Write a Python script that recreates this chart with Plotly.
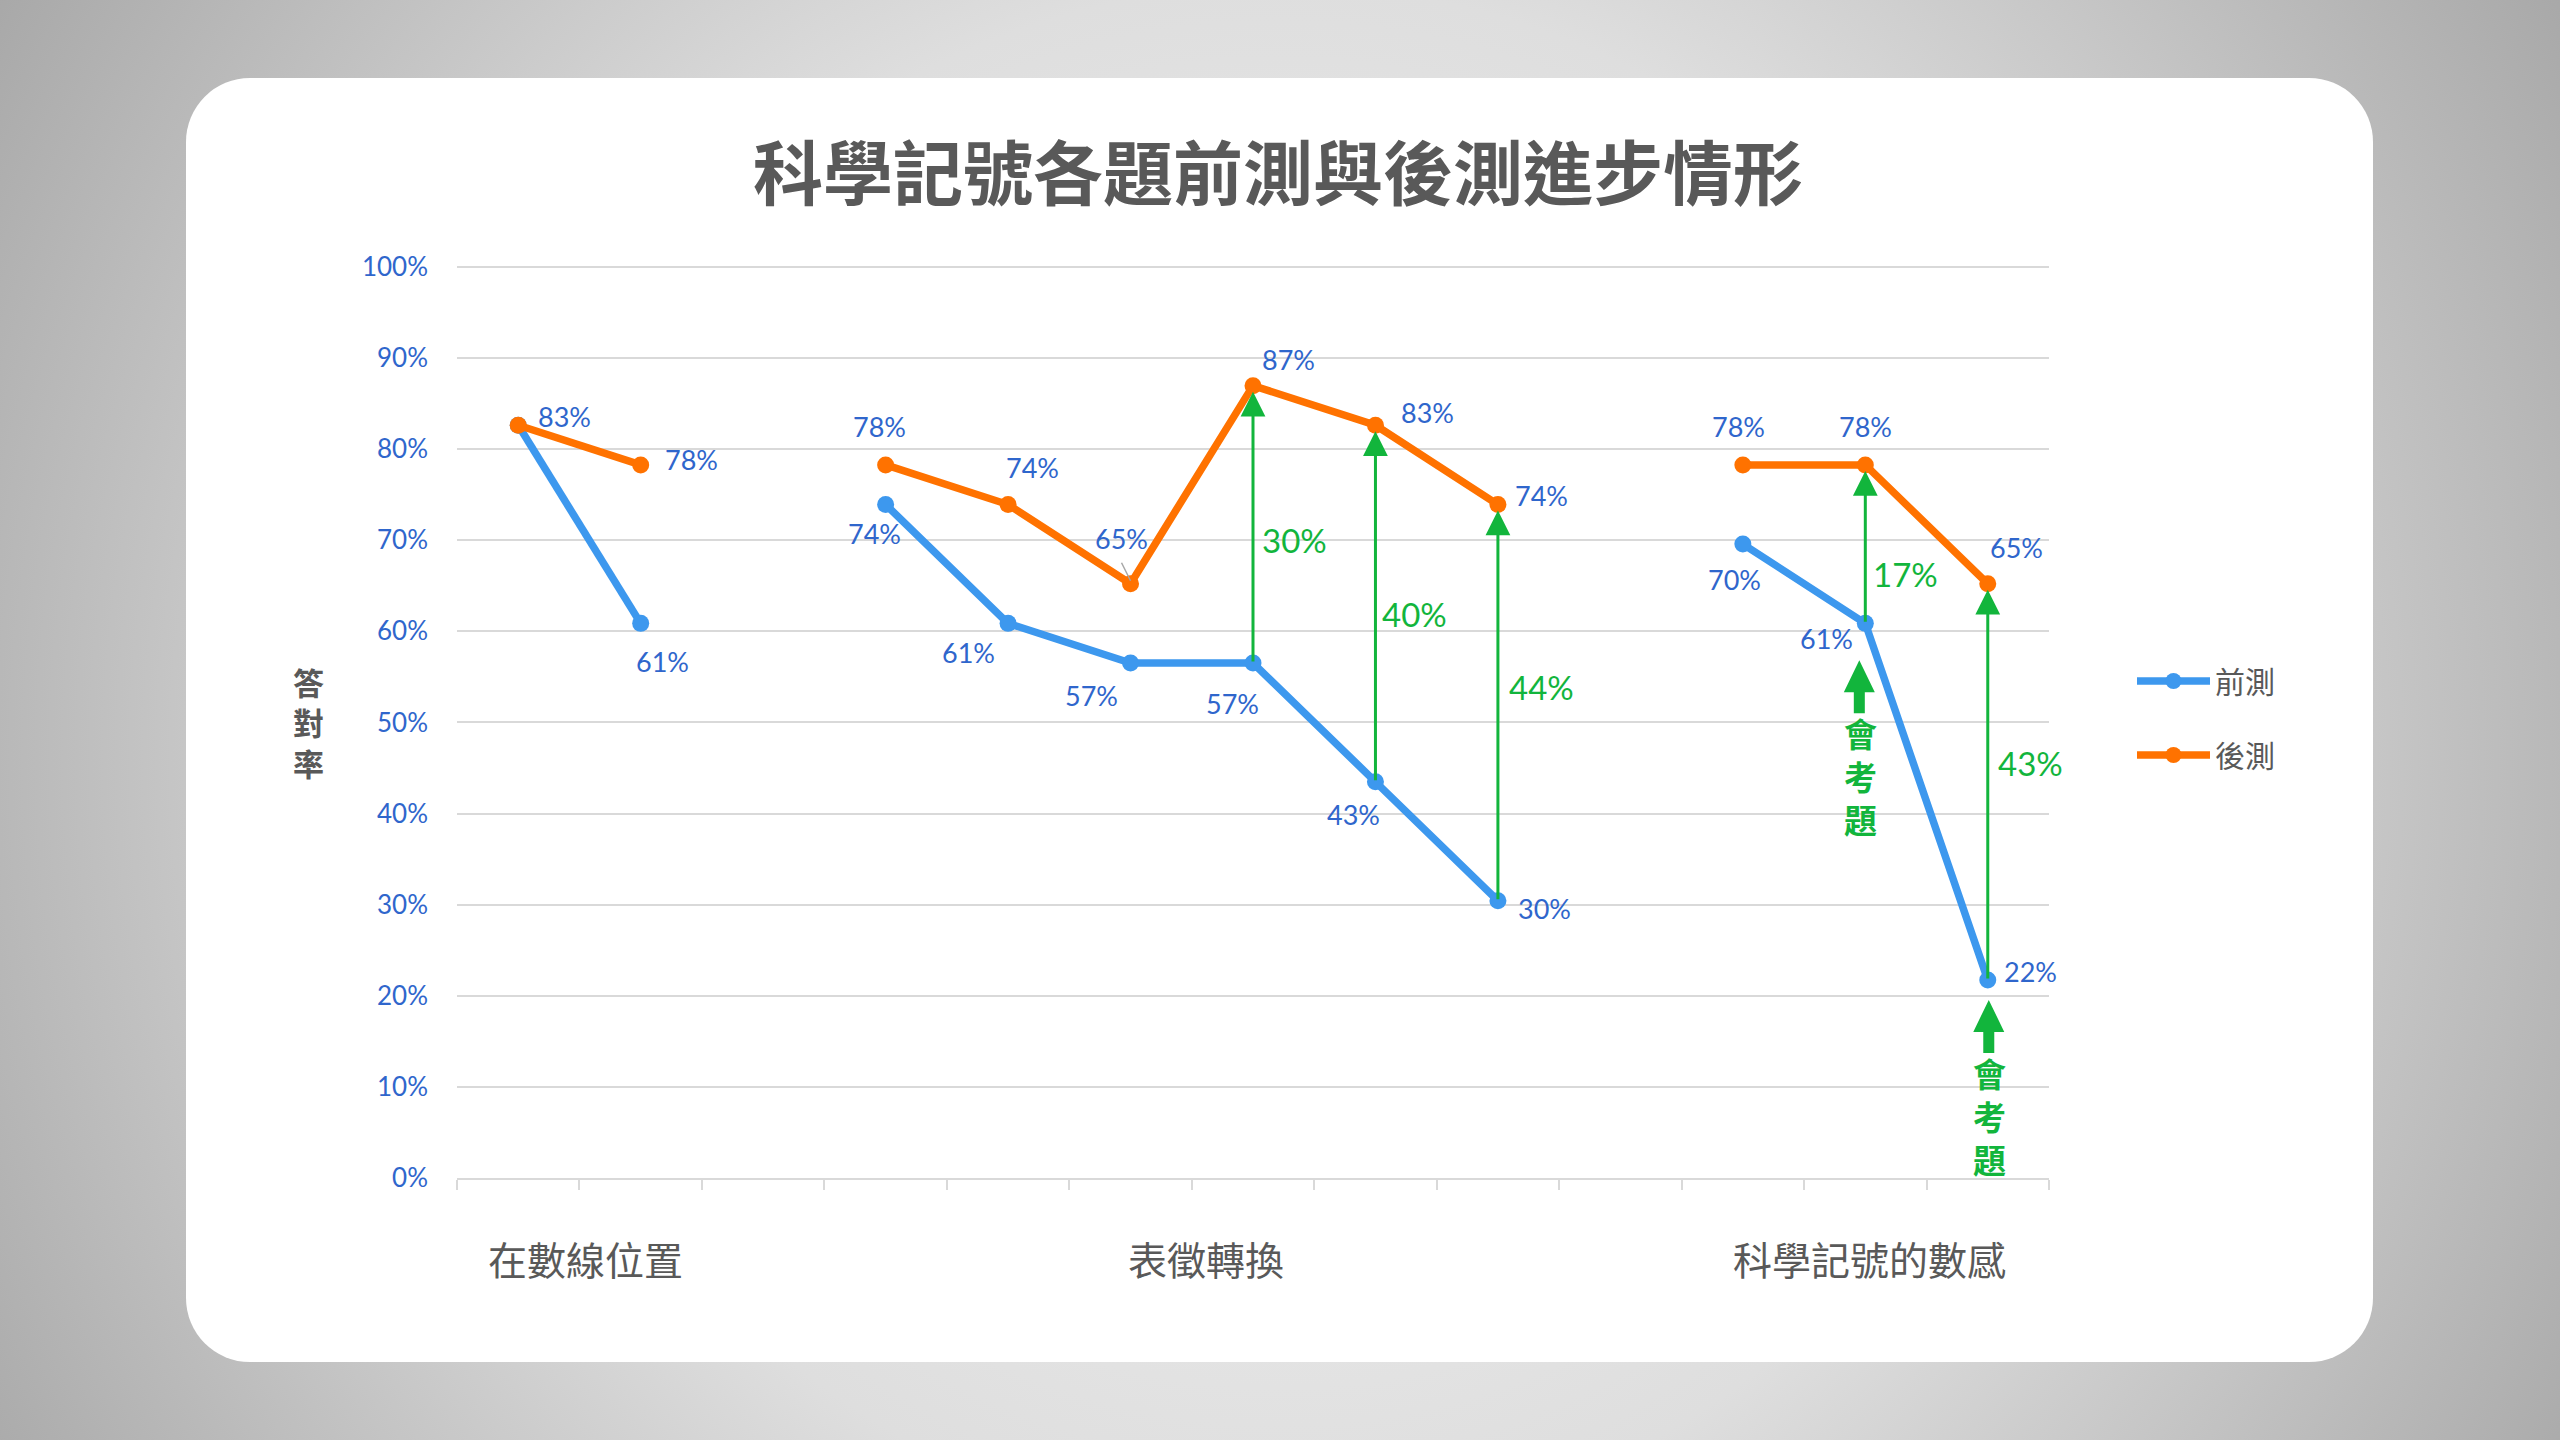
import base64
import plotly.graph_objects as go

# 每一格是一個題目，3 與 10 是組與組之間的空格
slots = [1, 2, 3, 4, 5, 6, 7, 8, 9, 10, 11, 12, 13]
pre_test = [0.8261, 0.6087, None, 0.7391, 0.6087, 0.5652, 0.5652, 0.4348, 0.3043, None, 0.6957, 0.6087, 0.2174]
post_test = [0.8261, 0.7826, None, 0.7826, 0.7391, 0.6522, 0.8696, 0.8261, 0.7391, None, 0.7826, 0.7826, 0.6522]

groups = ["在數線位置", "表徵轉換", "科學記號的數感"]
group_slots = [[1, 2], [4, 5, 6, 7, 8, 9], [11, 12, 13]]

gain_slots = [7, 8, 9, 12, 13]
exam_slots = [12, 13]
exam_text = "會考題"

y_ticks = [0, 0.1, 0.2, 0.3, 0.4, 0.5, 0.6, 0.7, 0.8, 0.9, 1.0]

title = "科學記號各題前測與後測進步情形"
y_title = "答對率"

# colours / fonts
BLUE = "#3D98EE"
ORANGE = "#FF7200"
GREEN = "#12B53C"
LABEL = "#2F66CC"
GRAY_TXT = "#595959"
GRID = "#D9D9D9"
CJK = "Noto Sans CJK TC"
NUM = "Lato"

W, H = 2560, 1440
L, R, T, B = 457, 511, 265, 262
PW, PH = W - L - R, H - T - B


def px_x(px):
    return (px - L) / PW


def px_y(py):
    return (H - B - py) / PH


# label offsets in pixels (dx, dy), dy positive = downward
pre_off = {2: (22, 38), 4: (-11, 29), 5: (-40, 29), 6: (-39, 32), 7: (-21, 40),
           8: (-22, 33), 9: (47, 8), 11: (-8, 35), 12: (-39, 15), 13: (43, -8)}
post_off = {1: (46, -9), 2: (51, -5), 4: (-6, -38), 5: (24, -37), 6: (-9, -45),
            7: (35, -26), 8: (52, -13), 9: (44, -9), 11: (-4, -38), 12: (0, -38), 13: (29, -36)}
gain_off = {7: (7, 16), 8: (5, 10), 9: (9, -16), 12: (6, 30), 13: (8, -19)}
exam_off = {12: (-6, 37), 13: (1, 20)}  # arrow tip below the pre-test point
group_shift = [6, 14, 4]

fig = go.Figure()
fig.add_trace(go.Scatter(
    x=slots, y=pre_test, name="前測", mode="lines+markers", connectgaps=False,
    line=dict(color=BLUE, width=7.5), marker=dict(size=17, color=BLUE),
    legendgroup="pre", hoverinfo="skip"))
fig.add_trace(go.Scatter(
    x=slots, y=post_test, name="後測", mode="lines+markers", connectgaps=False,
    line=dict(color=ORANGE, width=7.5), marker=dict(size=17, color=ORANGE),
    legendgroup="post", hoverinfo="skip"))

# data labels
for vals, offs in ((pre_test, pre_off), (post_test, post_off)):
    for s, v in zip(slots, vals):
        if v is None or s not in offs:
            continue
        dx, dy = offs[s]
        fig.add_annotation(x=s, y=v, text=f"{v:.0%}", showarrow=False,
                           xshift=dx, yshift=-dy,
                           font=dict(family=NUM, size=27, color=LABEL))

# small leader line of the 65% label
fig.add_shape(type="path", xref="x", yref="y", xsizemode="pixel", ysizemode="pixel",
              xanchor=6, yanchor=post_test[slots.index(6)],
              path="M-9,21 L0,3", line=dict(color="#A6A6A6", width=1.5))

# progress arrows and gains
for s in gain_slots:
    i = slots.index(s)
    lo, hi = pre_test[i], post_test[i]
    fig.add_annotation(x=s, y=hi, ax=s, ay=lo, xref="x", yref="y", axref="x", ayref="y",
                       text="", showarrow=True, arrowhead=2, arrowsize=1.65,
                       arrowwidth=3, arrowcolor=GREEN, standoff=6)
    gain = round(hi * 100) - round(lo * 100)
    dx, dy = gain_off[s]
    fig.add_annotation(x=s, y=(lo + hi) / 2, text=f"{gain}%", showarrow=False,
                       xanchor="left", xshift=dx, yshift=-dy,
                       font=dict(family=NUM, size=33, color=GREEN))

# 會考題 markers
for s in exam_slots:
    v = pre_test[slots.index(s)]
    dx, top = exam_off[s]
    p = (f"M{dx},{-top} L{dx + 15.5},{-top - 32} L{dx + 5.5},{-top - 32} "
         f"L{dx + 5.5},{-top - 53} L{dx - 5.5},{-top - 53} L{dx - 5.5},{-top - 32} "
         f"L{dx - 15.5},{-top - 32} Z")
    fig.add_shape(type="path", xref="x", yref="y", xsizemode="pixel", ysizemode="pixel",
                  xanchor=s, yanchor=v, path=p, fillcolor=GREEN, line=dict(width=0))
    fig.add_annotation(x=s, y=v, text="<br>".join(exam_text), showarrow=False,
                       xshift=dx + 1, yshift=-(top + 47), yanchor="top",
                       font=dict(family=CJK, size=33, color=GREEN, weight=700))

# group labels under the axis
for g, members, sh in zip(groups, group_slots, group_shift):
    fig.add_annotation(x=sum(members) / len(members), y=px_y(1258), xref="x", yref="paper",
                       yanchor="middle", xshift=sh, text=g, showarrow=False,
                       font=dict(family=CJK, size=39, color=GRAY_TXT))

fig.add_annotation(x=px_x(1278), y=px_y(169), xref="paper", yref="paper", text=title,
                   xanchor="center", yanchor="middle", showarrow=False,
                   font=dict(family=CJK, size=70, color=GRAY_TXT, weight=700))
fig.add_annotation(x=px_x(308), y=px_y(722), xref="paper", yref="paper",
                   xanchor="center", yanchor="middle",
                   text="<br>".join(y_title), showarrow=False,
                   font=dict(family=CJK, size=31, color=GRAY_TXT, weight=700))

svg = f'''<svg xmlns="http://www.w3.org/2000/svg" width="{W}" height="{H}" viewBox="0 0 {W} {H}">
<defs><radialGradient id="g" cx="1280" cy="760" r="1550" gradientUnits="userSpaceOnUse">
<stop offset="0" stop-color="#f3f3f3"/><stop offset="0.5" stop-color="#dedede"/>
<stop offset="1" stop-color="#a4a4a4"/></radialGradient></defs>
<rect width="{W}" height="{H}" fill="url(#g)"/>
<rect x="186" y="78" width="2187" height="1284" rx="64" ry="64" fill="#ffffff"/>
</svg>'''
bg = "data:image/svg+xml;base64," + base64.b64encode(svg.encode()).decode()

boundaries = [s - 0.5 for s in slots] + [slots[-1] + 0.5]

fig.update_layout(
    width=W, height=H,
    margin=dict(l=L, r=R, t=T, b=B, pad=0),
    paper_bgcolor="#d0d0d0", plot_bgcolor="rgba(0,0,0,0)",
    showlegend=True,
    xaxis=dict(range=[boundaries[0], boundaries[-1]], tickvals=boundaries, showticklabels=False,
               ticks="outside", ticklen=10, tickwidth=2, tickcolor=GRID,
               showline=True, linecolor=GRID, linewidth=2, showgrid=False, zeroline=False),
    yaxis=dict(range=[0, 1.002], tickvals=y_ticks, tickformat=".0%", showgrid=True,
               gridcolor=GRID, gridwidth=2, zeroline=False, showline=False, ticks="",
               ticklabelstandoff=28, tickfont=dict(family=NUM, size=26, color=LABEL)),
    legend=dict(x=px_x(2132), y=px_y(655), xanchor="left", yanchor="top",
                bgcolor="rgba(0,0,0,0)", itemwidth=73, tracegroupgap=32,
                traceorder="grouped",
                font=dict(family=CJK, size=30, color=GRAY_TXT)),
    images=[dict(source=bg, xref="paper", yref="paper", x=-L / PW, y=1 + T / PH,
                 sizex=W / PW, sizey=H / PH, xanchor="left", yanchor="top",
                 sizing="stretch", layer="below")],
)

fig.write_html("out.html", config={"displayModeBar": False},
               post_script="document.body.style.margin='0';document.body.style.overflow='hidden';")
